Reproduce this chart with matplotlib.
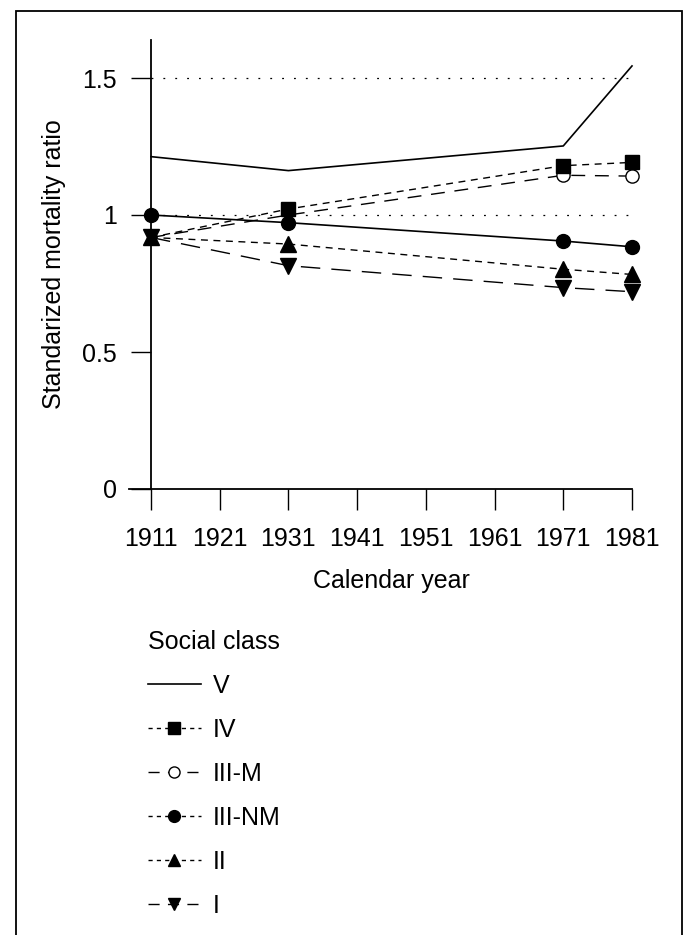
import matplotlib
matplotlib.use("Agg")
import matplotlib.pyplot as plt
from matplotlib.lines import Line2D
from matplotlib.patches import Rectangle

plt.rcParams['font.family'] = ['Liberation Sans', 'DejaVu Sans']

years = [1911, 1931, 1971, 1981]
tick_years = [1911, 1921, 1931, 1941, 1951, 1961, 1971, 1981]
smr_v = [1.213, 1.162, 1.252, 1.544]
smr_iv = [0.918, 1.022, 1.180, 1.192]
smr_iiim = [0.918, 1.000, 1.145, 1.142]
smr_iiinm = [1.000, 0.972, 0.905, 0.884]
smr_ii = [0.918, 0.894, 0.802, 0.783]
smr_i = [0.918, 0.815, 0.735, 0.720]
ref_levels = [1.5, 1.0]
class_labels = ['V', 'IV', 'III-M', 'III-NM', 'II', 'I']

W, H = 689, 935
fig = plt.figure(figsize=(W / 100, H / 100), dpi=100)
ax = fig.add_axes([151 / W, 1 - 489 / H, 481 / W, 449 / H])

# dotted reference lines
for lvl in ref_levels:
    ax.plot([years[0], years[-1]], [lvl, lvl], color='black', lw=0.9,
            linestyle=(0, (1.5, 8)), zorder=1)

fs = 18
ax.plot(years, smr_v, color='black', lw=1.2, linestyle='-', zorder=2, clip_on=False)
ax.plot(years, smr_iv, color='black', lw=1.0, linestyle=(0, (5, 4)),
        marker='s', ms=10.5, markevery=[1, 2, 3], zorder=4, clip_on=False)
ax.plot(years, smr_iiim, color='black', lw=1.0, linestyle=(0, (10, 7)),
        marker='o', ms=9.5, mfc='white', markevery=[2, 3], zorder=3, clip_on=False)
ax.plot(years, smr_iiinm, color='black', lw=1.2, linestyle='-',
        marker='o', ms=10, zorder=3, clip_on=False)
ax.plot(years, smr_ii, color='black', lw=1.0, linestyle=(0, (5, 4)),
        marker='^', ms=11, zorder=3, clip_on=False)
ax.plot(years, smr_i, color='black', lw=1.0, linestyle=(0, (14, 8)),
        marker='v', ms=11, zorder=3, clip_on=False)

ax.set_xlim(1911, 1981)
ax.set_ylim(0, 449 / 274)
ax.set_xticks(tick_years)
ax.set_xticklabels([str(y) for y in tick_years])
ax.set_yticks([0, 0.5, 1, 1.5])
ax.set_yticklabels(['0', '0.5', '1', '1.5'])
for s in ['top', 'right']:
    ax.spines[s].set_visible(False)
ax.spines['left'].set_linewidth(1.3)
ax.spines['bottom'].set_linewidth(1.3)
ax.spines['bottom'].set_bounds(1907.8, 1981)
ax.tick_params(axis='x', direction='out', length=15, width=1.0, pad=12, labelsize=fs)
ax.tick_params(axis='y', direction='out', length=14.5, width=1.0, pad=10, labelsize=fs)
ax.set_xlabel('Calendar year', fontsize=fs)
ax.set_ylabel('Standarized mortality ratio', fontsize=fs)
ax.xaxis.set_label_coords(0.5, -(569 - 489) / 449)
ax.yaxis.set_label_coords((66 - 151) / 481, 0.5)
ax.patch.set_visible(False)

handles = [
    Line2D([], [], color='black', lw=1.2, linestyle='-'),
    Line2D([], [], color='black', lw=1.0, linestyle=(0, (3, 3)), marker='s', ms=8),
    Line2D([], [], color='black', lw=1.0, linestyle=(0, (8, 6)), marker='o', ms=8, mfc='white'),
    Line2D([], [], color='black', lw=1.0, linestyle=(0, (3, 3)), marker='o', ms=8.5),
    Line2D([], [], color='black', lw=1.0, linestyle=(0, (3, 3)), marker='^', ms=9),
    Line2D([], [], color='black', lw=1.0, linestyle=(0, (8, 6)), marker='v', ms=9),
]
leg = fig.legend(handles, class_labels, title='Social class', loc='upper left',
                 bbox_to_anchor=(148 / W, 1 - 630 / H), frameon=False,
                 fontsize=fs, title_fontsize=fs, handlelength=2.1,
                 labelspacing=0.8, handletextpad=0.5, borderpad=0,
                 borderaxespad=0)
leg._legend_box.align = 'left'

# page border (open at the bottom, as in the scan)
fig.add_artist(Rectangle((16 / W, -0.01), (682 - 16) / W, 1.01 - 11 / H,
                         transform=fig.transFigure, fill=False, lw=1.3,
                         edgecolor='black'))

fig.savefig('out.png', dpi=100)
